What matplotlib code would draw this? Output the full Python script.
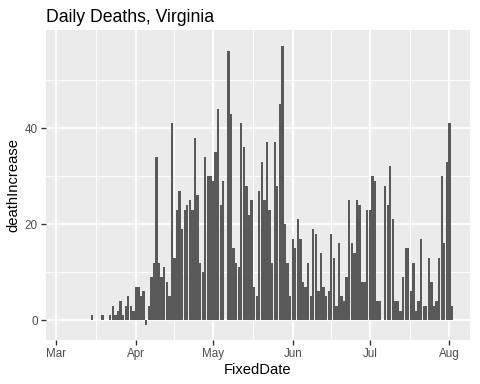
import numpy as np
import pandas as pd
import matplotlib
matplotlib.use('Agg')
import matplotlib.pyplot as plt
import matplotlib.dates as mdates

# daily death increase, Virginia, from 2020-03-15 to 2020-08-02
start_date = '2020-03-15'
death_increase = [
    1, 0, 0, 0, 1, 0, 0, 1, 3, 1, 2, 4, 1, 3, 5, 3, 2,          # Mar 15-31
    7, 7, 5, 6, -1, 3, 9, 12, 34, 12, 9, 11, 8, 5, 41, 13,       # Apr 1-16
    23, 27, 19, 23, 24, 25, 23, 38, 26, 12, 10, 34, 30, 30,      # Apr 17-30
    29, 35, 44, 24, 29, 0, 56, 43, 15, 12, 11, 41, 36, 28, 22,   # May 1-15
    25, 7, 5, 27, 33, 25, 37, 23, 12, 37, 28, 45, 57, 20, 12, 5,  # May 16-31
    17, 15, 21, 17, 8, 7, 12, 5, 19, 18, 6, 14, 7, 5, 6,         # Jun 1-15
    18, 13, 3, 16, 5, 4, 9, 25, 16, 14, 25, 24, 8, 8, 23,        # Jun 16-30
    23, 30, 29, 4, 4, 0, 28, 24, 32, 21, 4, 4, 2, 9, 15, 15,     # Jul 1-16
    6, 12, 2, 4, 17, 3, 3, 13, 8, 3, 4, 13, 30, 16, 33,          # Jul 17-31
    41, 3,                                                       # Aug 1-2
]
dates = pd.date_range(start_date, periods=len(death_increase), freq='D')

month_ticks = pd.to_datetime(['2020-03-01', '2020-04-01', '2020-05-01',
                              '2020-06-01', '2020-07-01', '2020-08-01'])
month_labels = ['Mar', 'Apr', 'May', 'Jun', 'Jul', 'Aug']

plt.rcParams['font.family'] = ['Liberation Sans', 'DejaVu Sans']

fig = plt.figure(figsize=(4.8, 3.84), dpi=100)
ax = fig.add_axes([46 / 480, 1 - 340 / 384, 424 / 480, 310 / 384])
ax.set_facecolor('#EBEBEB')

ax.bar(dates, death_increase, width=0.9, color='#595959', zorder=3)

# axes limits (ggplot style expansion)
x0 = mdates.date2num(pd.Timestamp('2020-03-01'))
ax.set_xlim(x0 - 4.0, x0 + 161.0)
ax.set_ylim(-4.1, 60.4)

# grid
ax.set_xticks(month_ticks)
ax.set_xticklabels(month_labels)
major_num = mdates.date2num(month_ticks)
minor_num = (major_num[:-1] + major_num[1:]) / 2
ax.set_xticks(minor_num, minor=True)
ax.set_yticks([0, 20, 40])
ax.set_yticks([10, 30, 50], minor=True)
ax.grid(which='major', color='white', linewidth=1.3, zorder=0)
ax.grid(which='minor', color='white', linewidth=0.65, zorder=0)
ax.set_axisbelow(True)

for s in ax.spines.values():
    s.set_visible(False)

ax.tick_params(which='major', length=3.5, width=1.0, color='#333333',
               labelsize=8.4, labelcolor='#4D4D4D', pad=2.5)
ax.tick_params(which='minor', length=0)

ax.set_xlabel('FixedDate', fontsize=10.6, color='black', labelpad=2)
ax.set_ylabel('deathIncrease', fontsize=10.6, color='black', labelpad=3)
ax.set_title('Daily Deaths, Virginia', fontsize=12.7, loc='left', pad=6)

fig.savefig('out.png', dpi=100)
